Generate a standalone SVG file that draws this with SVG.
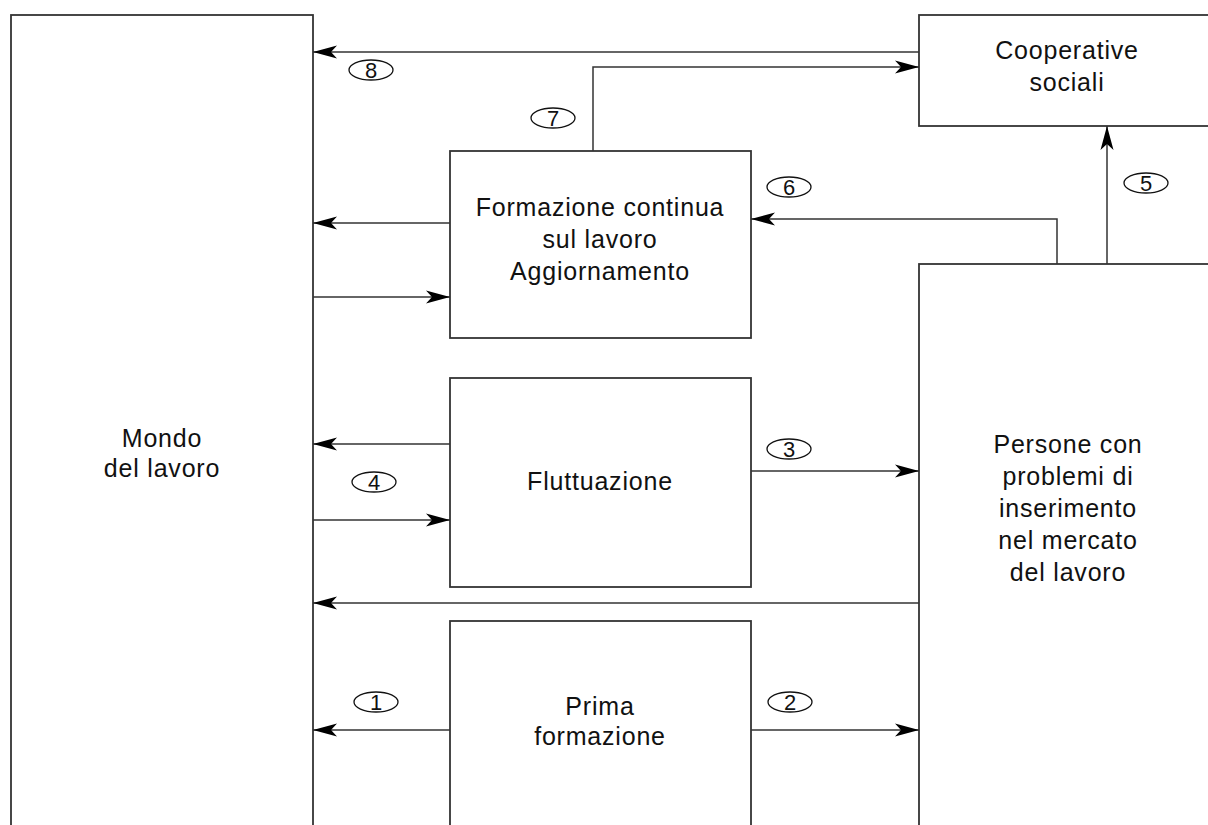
<svg xmlns="http://www.w3.org/2000/svg" width="1208" height="825" viewBox="0 0 1208 825">
<style>
.box{fill:#fff;stroke:#333;stroke-width:1.8}
.ln{fill:none;stroke:#333;stroke-width:1.5}
.t{font-family:"Liberation Sans",Arial,sans-serif;font-size:25px;letter-spacing:0.8px;fill:#111;text-anchor:middle}
.n{font-family:"Liberation Sans",Arial,sans-serif;font-size:22px;fill:#111;text-anchor:middle}
.el{fill:#fff;stroke:#111;stroke-width:1.3}
</style>
<defs>
<marker id="ah" markerUnits="userSpaceOnUse" markerWidth="26" markerHeight="14" refX="24" refY="7" orient="auto">
<path d="M24,7 L0,0.5 L6,7 L0,13.5 Z" fill="#000"/>
</marker>
</defs>
<rect width="1208" height="825" fill="#fff"/>
<g id="mondo"><rect class="box" x="11" y="15" width="302" height="830"/>
<text class="t" x="162" y="447">Mondo</text><text class="t" x="162" y="477">del lavoro</text></g>
<g id="cooperative"><rect class="box" x="919" y="15" width="300" height="111"/>
<text class="t" x="1067" y="59">Cooperative</text><text class="t" x="1067" y="91">sociali</text></g>
<g id="formazione"><rect class="box" x="450" y="151" width="301" height="187"/>
<text class="t" x="600" y="216">Formazione continua</text><text class="t" x="600" y="248">sul lavoro</text><text class="t" x="600" y="280">Aggiornamento</text></g>
<g id="fluttuazione"><rect class="box" x="450" y="378" width="301" height="209"/>
<text class="t" x="600" y="490">Fluttuazione</text></g>
<g id="prima"><rect class="box" x="450" y="621" width="301" height="230"/>
<text class="t" x="600" y="715">Prima</text><text class="t" x="600" y="745">formazione</text></g>
<g id="persone"><rect class="box" x="919" y="264" width="300" height="590"/>
<text class="t" x="1068" y="453">Persone con</text><text class="t" x="1068" y="485">problemi di</text><text class="t" x="1068" y="517">inserimento</text><text class="t" x="1068" y="549">nel mercato</text><text class="t" x="1068" y="581">del lavoro</text></g>
<g id="connectors">
<path class="ln" marker-end="url(#ah)" d="M919,52 H313"/>
<path class="ln" marker-end="url(#ah)" d="M593,151 V67 H919"/>
<path class="ln" marker-end="url(#ah)" d="M1057,264 V219 H751"/>
<path class="ln" marker-end="url(#ah)" d="M1107,264 V126"/>
<path class="ln" marker-end="url(#ah)" d="M450,223 H313"/>
<path class="ln" marker-end="url(#ah)" d="M313,297 H450"/>
<path class="ln" marker-end="url(#ah)" d="M450,444 H313"/>
<path class="ln" marker-end="url(#ah)" d="M313,520 H450"/>
<path class="ln" marker-end="url(#ah)" d="M751,471 H919"/>
<path class="ln" marker-end="url(#ah)" d="M919,603 H313"/>
<path class="ln" marker-end="url(#ah)" d="M450,730 H313"/>
<path class="ln" marker-end="url(#ah)" d="M751,730 H919"/>
</g>
<g id="labels">
<ellipse class="el" cx="371" cy="70" rx="22" ry="10"/><text class="n" x="371" y="78">8</text>
<ellipse class="el" cx="553" cy="118" rx="22" ry="10"/><text class="n" x="553" y="126">7</text>
<ellipse class="el" cx="789" cy="187" rx="22" ry="10"/><text class="n" x="789" y="195">6</text>
<ellipse class="el" cx="1146" cy="183" rx="22" ry="10"/><text class="n" x="1146" y="191">5</text>
<ellipse class="el" cx="374" cy="482" rx="22" ry="10"/><text class="n" x="374" y="490">4</text>
<ellipse class="el" cx="789" cy="449" rx="22" ry="10"/><text class="n" x="789" y="457">3</text>
<ellipse class="el" cx="376" cy="702" rx="22" ry="10"/><text class="n" x="376" y="710">1</text>
<ellipse class="el" cx="790" cy="702" rx="22" ry="10"/><text class="n" x="790" y="710">2</text>
</g>
</svg>
